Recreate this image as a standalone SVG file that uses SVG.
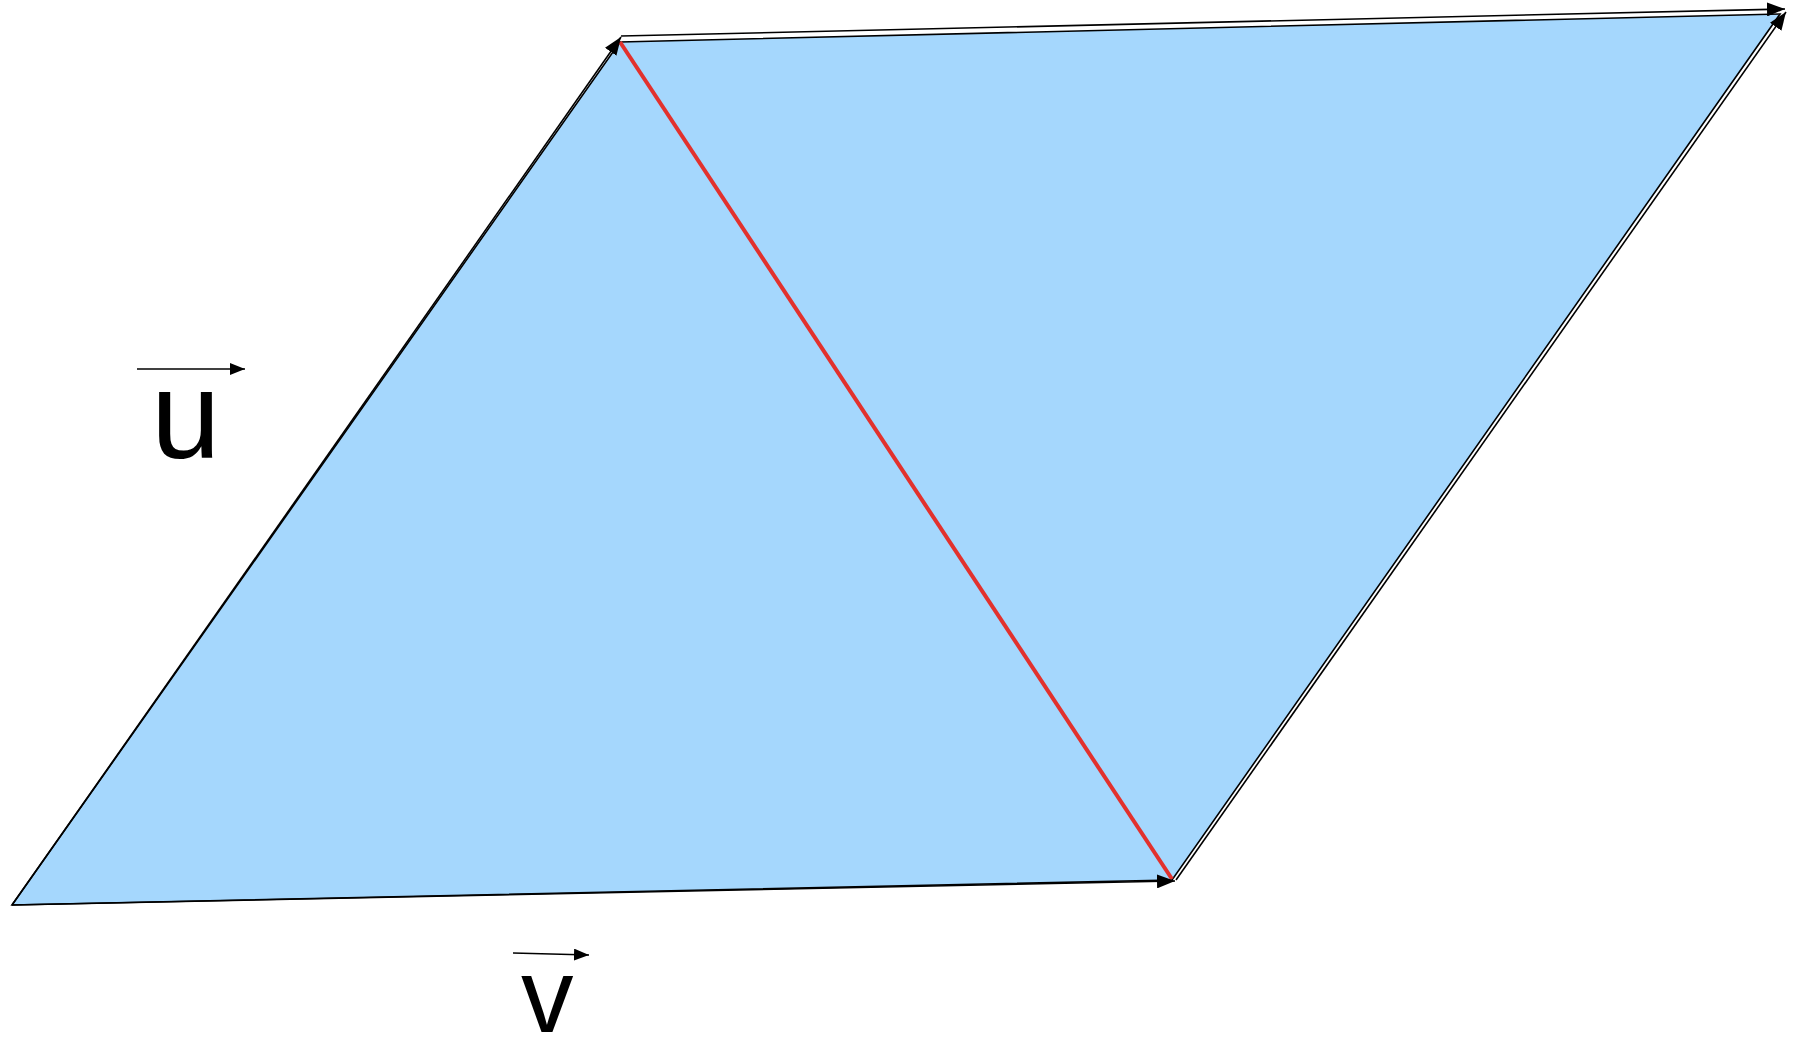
<svg xmlns="http://www.w3.org/2000/svg" width="1794" height="1064" viewBox="0 0 1794 1064">
  <style>
    .edge { stroke: #000; stroke-width: 1.6; fill: none; }
    .lbl { font-family: "Liberation Sans", Arial, sans-serif; fill: #000; }
  </style>
  <defs>
    <marker id="ah" markerUnits="userSpaceOnUse" markerWidth="16" markerHeight="12" refX="15" refY="6" orient="auto">
      <path d="M0,0 L15,6 L0,12 z" fill="#000"/>
    </marker>
    <marker id="ahb" markerUnits="userSpaceOnUse" markerWidth="19" markerHeight="14" refX="18" refY="7" orient="auto">
      <path d="M0,0 L18,7 L0,14 z" fill="#000"/>
    </marker>
  </defs>
  <rect width="1794" height="1064" fill="#fff"/>
  <g id="parallelogram">
    <polygon points="12,905 620,42 1780,14 1172,880" fill="#a5d7fd" stroke="#000" stroke-width="1.6"/>
  </g>
  <g id="diagonal">
    <line x1="620" y1="42" x2="1172" y2="879" stroke="#e2312d" stroke-width="4"/>
  </g>
  <g id="connectors">
    <line class="edge" x1="12" y1="905" x2="621" y2="37" marker-end="url(#ahb)"/>
    <line class="edge" x1="12" y1="905" x2="1175" y2="881" marker-end="url(#ahb)"/>
    <line class="edge" x1="621" y1="36" x2="1785" y2="9" marker-end="url(#ahb)"/>
    <line class="edge" x1="1176" y1="880" x2="1786" y2="12" marker-end="url(#ahb)"/>
    <line class="edge" x1="137" y1="369" x2="245" y2="369" marker-end="url(#ah)"/>
    <line class="edge" x1="513" y1="953" x2="589" y2="955" marker-end="url(#ah)"/>
  </g>
  <g id="label-u">
    <text class="lbl" x="151" y="458" font-size="125">u</text>
  </g>
  <g id="label-v">
    <text class="lbl" x="521" y="1032" font-size="105">v</text>
  </g>
</svg>
